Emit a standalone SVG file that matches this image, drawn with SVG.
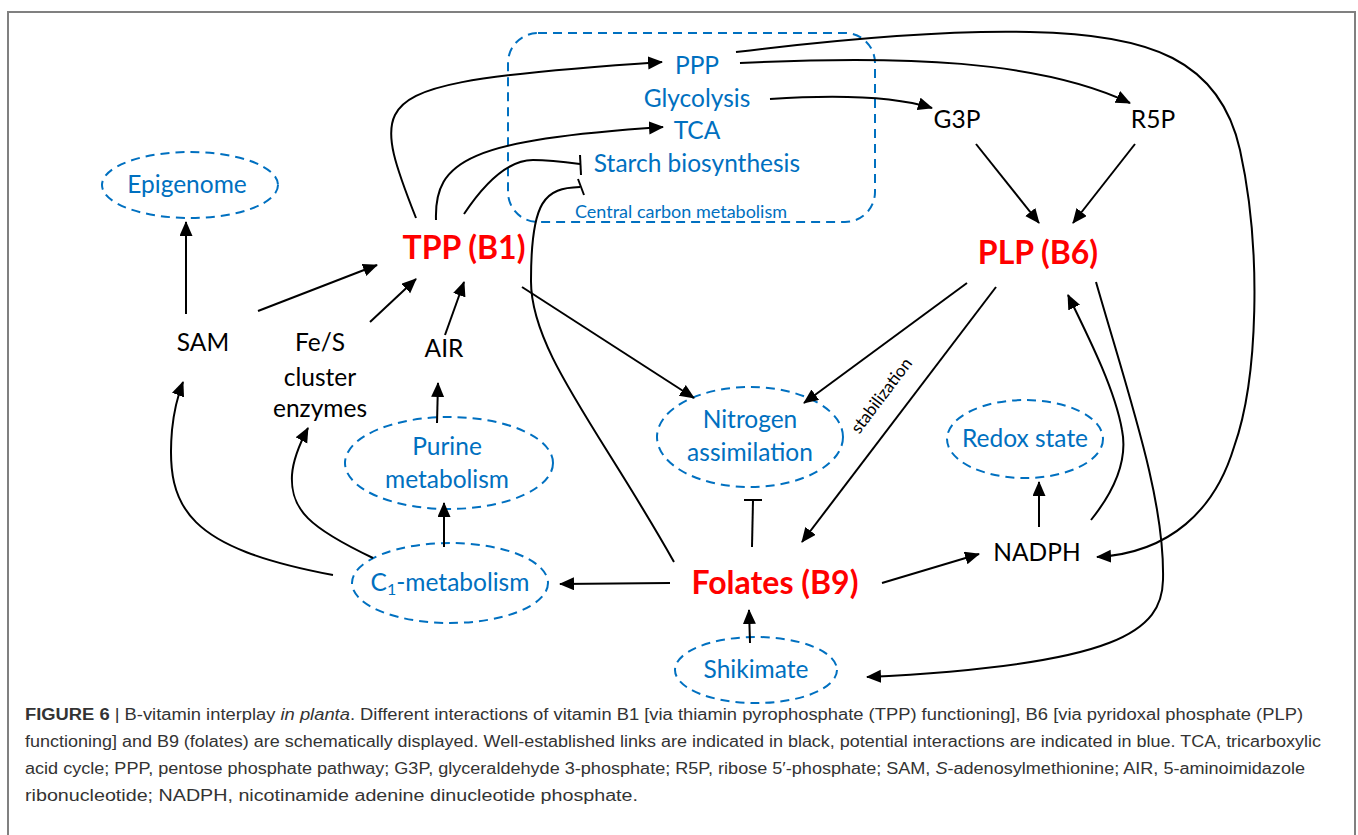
<svg xmlns="http://www.w3.org/2000/svg" width="1358" height="835" viewBox="0 0 1358 835">
<style>
.frame{fill:none;stroke:#808080;stroke-width:2}
.blue{fill:#0070C0;font-family:Lato,"Open Sans",sans-serif;font-size:24.5px;text-anchor:middle}
.blk{fill:#000;font-family:Lato,"Open Sans",sans-serif;font-size:24.5px;text-anchor:middle}
.red{fill:#FF0000;font-family:Lato,"Open Sans",sans-serif;font-size:32px;font-weight:bold;text-anchor:middle}
.ell{fill:none;stroke:#0070C0;stroke-width:2;stroke-dasharray:9,6}
.con{fill:none;stroke:#000;stroke-width:2}
.arr{marker-end:url(#ah)}
.cap{fill:#333;font-family:"Liberation Sans",Arial,sans-serif;font-size:16px}
</style>
<defs>
<marker id="ah" markerUnits="userSpaceOnUse" markerWidth="16" markerHeight="14" refX="14" refY="6.5" orient="auto">
<path d="M0,0 L15,6.5 L0,13 z" fill="#000"/>
</marker>
</defs>
<path class="frame" d="M8,835 L8,12 L1355,12 L1355,835"/>

<g id="ccm">
<rect x="508" y="33" width="367" height="189" rx="30" ry="30" class="ell" stroke-dasharray="10,6"/>
<text class="blue" x="697" y="74">PPP</text>
<text class="blue" x="697" y="107">Glycolysis</text>
<text class="blue" x="697" y="139">TCA</text>
<text class="blue" x="697" y="172">Starch biosynthesis</text>
<text class="blue" x="681" y="218" style="font-size:18px">Central carbon metabolism</text>
</g>
<g id="g3p"><text class="blk" x="957" y="128">G3P</text></g>
<g id="r5p"><text class="blk" x="1153" y="128">R5P</text></g>
<g id="tpp"><text class="red" x="464" y="259">TPP (B1)</text></g>
<g id="plp"><text class="red" x="1038" y="264">PLP (B6)</text></g>
<g id="folates"><text class="red" x="775" y="594">Folates (B9)</text></g>
<g id="sam"><text class="blk" x="203" y="351">SAM</text></g>
<g id="fes"><text class="blk" x="320" y="351">Fe/S</text><text class="blk" x="320" y="386">cluster</text><text class="blk" x="320" y="417">enzymes</text></g>
<g id="air"><text class="blk" x="444" y="357">AIR</text></g>
<g id="nadph"><text class="blk" x="1037" y="561">NADPH</text></g>
<g id="epigenome"><ellipse class="ell" cx="190" cy="185" rx="88" ry="33"/><text class="blue" x="187" y="193">Epigenome</text></g>
<g id="nitrogen"><ellipse class="ell" cx="750" cy="437" rx="93" ry="50"/><text class="blue" x="750" y="428">Nitrogen</text><text class="blue" x="750" y="461">assimilation</text></g>
<g id="purine"><ellipse class="ell" cx="449" cy="463" rx="104" ry="46"/><text class="blue" x="447" y="455">Purine</text><text class="blue" x="447" y="488">metabolism</text></g>
<g id="redox"><ellipse class="ell" cx="1025" cy="439" rx="78" ry="39"/><text class="blue" x="1025" y="447">Redox state</text></g>
<g id="c1"><ellipse class="ell" cx="450" cy="583" rx="98" ry="40"/><text class="blue" x="450" y="591">C<tspan baseline-shift="-25%" font-size="16">1</tspan>-metabolism</text></g>
<g id="shikimate"><ellipse class="ell" cx="756" cy="670" rx="81" ry="33"/><text class="blue" x="756" y="678">Shikimate</text></g>

<g id="connectors">
<path class="con arr" d="M186,314 L186,222"/>
<path class="con arr" d="M258,311 L377,265"/>
<path class="con arr" d="M370,322 L416,279"/>
<path class="con arr" d="M445,335 L464,282"/>
<path class="con arr" d="M437,423 L438,383"/>
<path class="con arr" d="M444,547 L444,503"/>
<path class="con arr" d="M333,575 C190,548 165,510 172,430 C174,410 178,395 183,382"/>
<path class="con arr" d="M373,558 C310,528 290,510 292,475 C293,460 299,445 308,428"/>
<path class="con arr" d="M670,583 L560,584"/>
<path class="con arr" d="M522,287 L694,398"/>
<path class="con" d="M674,562 C600,430 530,350 531,280 C531,200 545,188 580,187"/>
<path class="con" d="M578,179 L584,195"/>
<path class="con" d="M464,214 C480,190 505,160 533,160 C550,160 565,162 580,164"/>
<path class="con" d="M580,155 L581,175"/>
<path class="con arr" d="M436,220 C434,160 470,140 663,127"/>
<path class="con arr" d="M416,218 C395,165 385,135 395,115 C410,85 470,75 662,62"/>
<path class="con arr" d="M770,99 C830,95 890,95 932,108"/>
<path class="con arr" d="M740,63 C900,55 1040,60 1130,103"/>
<path class="con arr" d="M736,52 C850,38 950,30 1030,32 C1150,34 1220,60 1240,150 C1262,250 1258,380 1234,447 C1215,510 1170,553 1097,557"/>
<path class="con arr" d="M976,144 L1039,223"/>
<path class="con arr" d="M1135,144 L1073,223"/>
<path class="con arr" d="M967,283 L804,403"/>
<path class="con arr" d="M996,287 L802,542"/>
<path class="con arr" d="M1091,520 C1115,490 1128,460 1122,430 C1115,390 1090,340 1068,295"/>
<path class="con arr" d="M1096,282 C1130,400 1165,500 1163,580 C1162,630 1120,665 867,677"/>
<path class="con" d="M752,547 L753,500"/>
<path class="con" d="M744,500 L762,500"/>
<path class="con arr" d="M882,583 L979,554"/>
<path class="con arr" d="M750,643 L749,610"/>
<path class="con arr" d="M1039,527 L1039,482"/>
<text x="0" y="0" transform="translate(886,399) rotate(-53)" style="font-family:Lato,'Open Sans',sans-serif;font-size:17px;text-anchor:middle;fill:#000">stabilization</text>
</g>

<g id="caption">
<text class="cap" x="25" y="720" textLength="1278" lengthAdjust="spacingAndGlyphs"><tspan font-weight="bold">FIGURE 6</tspan> | B-vitamin interplay <tspan font-style="italic">in planta</tspan>. Different interactions of vitamin B1 [via thiamin pyrophosphate (TPP) functioning], B6 [via pyridoxal phosphate (PLP)</text>
<text class="cap" x="25" y="747" textLength="1296" lengthAdjust="spacingAndGlyphs">functioning] and B9 (folates) are schematically displayed. Well-established links are indicated in black, potential interactions are indicated in blue. TCA, tricarboxylic</text>
<text class="cap" x="25" y="774" textLength="1280" lengthAdjust="spacingAndGlyphs">acid cycle; PPP, pentose phosphate pathway; G3P, glyceraldehyde 3-phosphate; R5P, ribose 5′-phosphate; SAM, <tspan font-style="italic">S</tspan>-adenosylmethionine; AIR, 5-aminoimidazole</text>
<text class="cap" x="25" y="801" textLength="613" lengthAdjust="spacingAndGlyphs">ribonucleotide; NADPH, nicotinamide adenine dinucleotide phosphate.</text>
</g>
</svg>
